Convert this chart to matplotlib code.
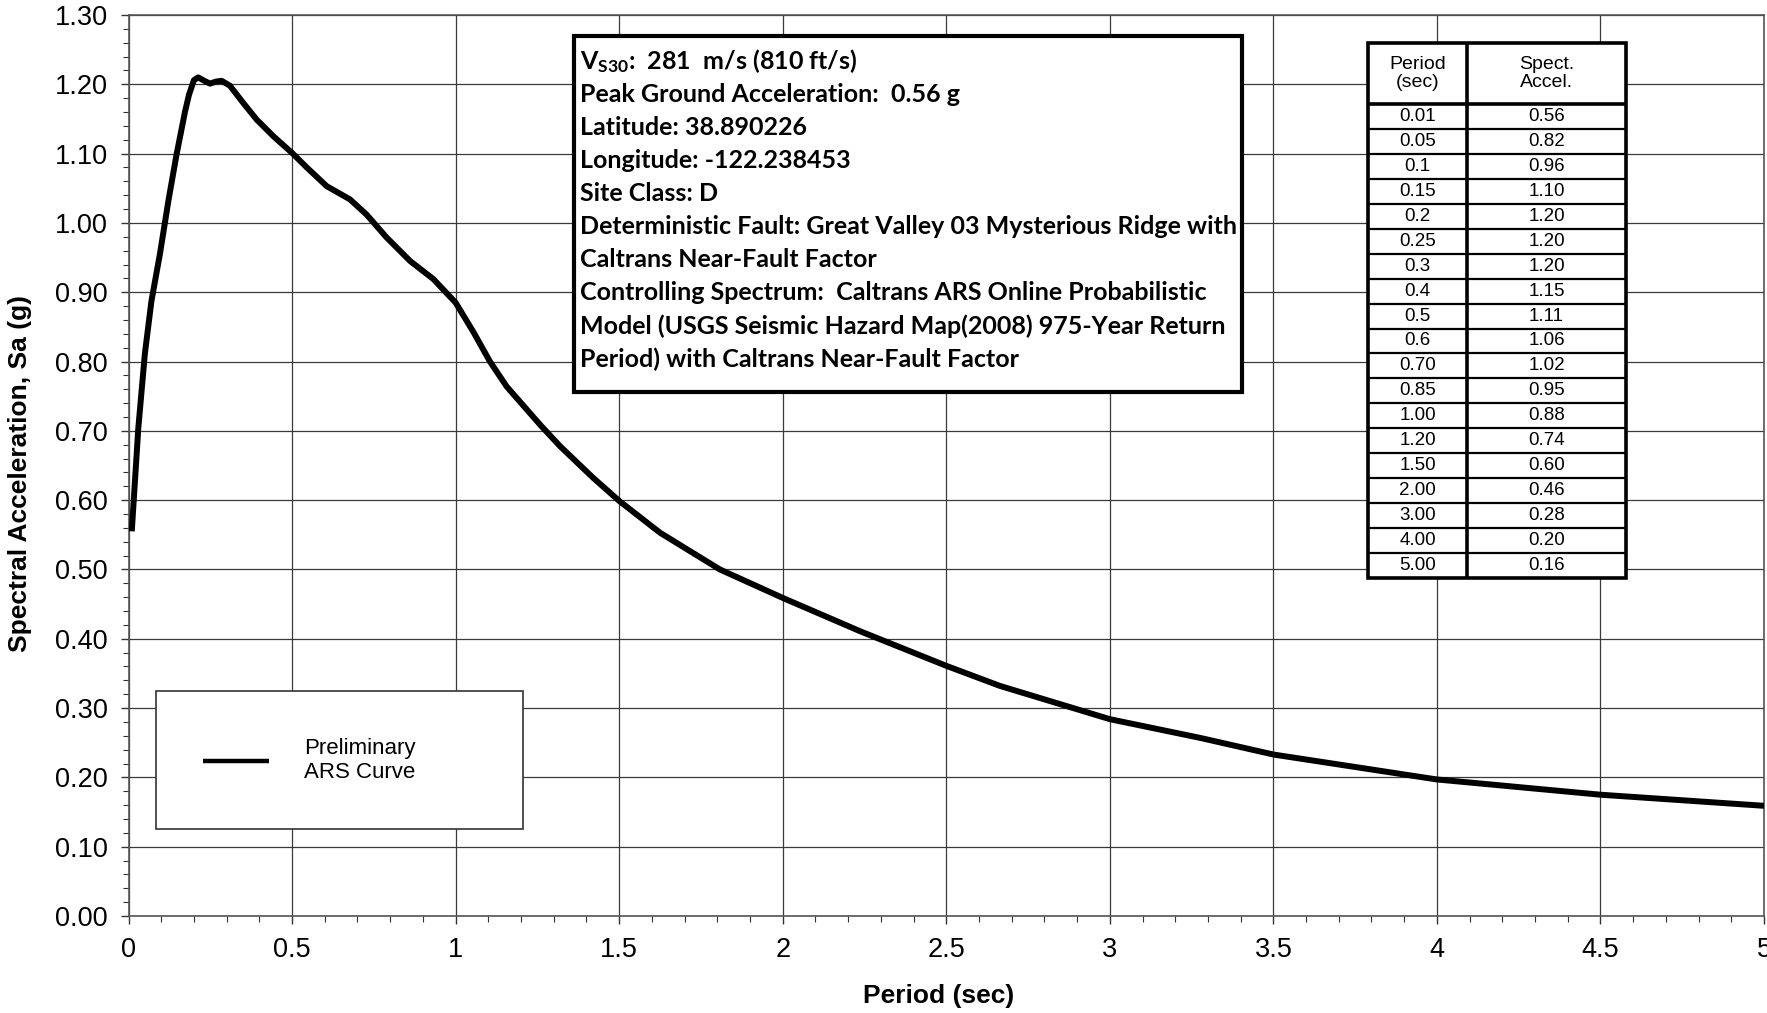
import matplotlib
matplotlib.use('Agg')
import matplotlib.pyplot as plt
from matplotlib.patches import Rectangle
from matplotlib.ticker import MultipleLocator, FuncFormatter

plt.rcParams['font.family'] = ['Liberation Sans', 'DejaVu Sans']
plt.rcParams['mathtext.fontset'] = 'custom'
plt.rcParams['mathtext.rm'] = 'Lato:bold'
plt.rcParams['mathtext.it'] = 'Lato:bold'
plt.rcParams['mathtext.bf'] = 'Lato:bold'

# ARS curve
period = [0.01, 0.03, 0.05, 0.07, 0.096, 0.122, 0.147, 0.173, 0.185, 0.2,
          0.213, 0.232, 0.249, 0.268, 0.285, 0.31, 0.351, 0.392, 0.443, 0.5,
          0.545, 0.606, 0.677, 0.728, 0.789, 0.861, 0.932, 1.0, 1.054, 1.105,
          1.156, 1.258, 1.319, 1.421, 1.5, 1.625, 1.808, 2.0, 2.236, 2.5,
          2.664, 3.0, 3.276, 3.5, 4.0, 4.5, 5.0]
spectral_accel = [0.555, 0.704, 0.811, 0.887, 0.955, 1.032, 1.099, 1.161, 1.185, 1.206,
                  1.210, 1.205, 1.201, 1.204, 1.205, 1.198, 1.173, 1.149, 1.125, 1.101,
                  1.080, 1.053, 1.034, 1.012, 0.979, 0.945, 0.919, 0.885, 0.843, 0.800,
                  0.764, 0.709, 0.678, 0.632, 0.599, 0.553, 0.500, 0.459, 0.411, 0.361,
                  0.332, 0.284, 0.257, 0.233, 0.197, 0.175, 0.159]

# table on the right
table_period = ['0.01', '0.05', '0.1', '0.15', '0.2', '0.25', '0.3', '0.4', '0.5', '0.6',
                '0.70', '0.85', '1.00', '1.20', '1.50', '2.00', '3.00', '4.00', '5.00']
table_accel = ['0.56', '0.82', '0.96', '1.10', '1.20', '1.20', '1.20', '1.15', '1.11', '1.06',
               '1.02', '0.95', '0.88', '0.74', '0.60', '0.46', '0.28', '0.20', '0.16']
table_header = ['Period\n(sec)', 'Spect.\nAccel.']

info_lines = [
    r'$\mathrm{V}_{\mathrm{S30}}$:  281  m/s (810 ft/s)',
    'Peak Ground Acceleration:  0.56 g',
    'Latitude: 38.890226',
    'Longitude: -122.238453',
    'Site Class: D',
    'Deterministic Fault: Great Valley 03 Mysterious Ridge with',
    'Caltrans Near-Fault Factor',
    'Controlling Spectrum:  Caltrans ARS Online Probabilistic',
    'Model (USGS Seismic Hazard Map(2008) 975-Year Return',
    'Period) with Caltrans Near-Fault Factor',
]

W, H = 1767, 1013


def fx(x):
    return x / W


def fy(y):
    return 1 - y / H


fig = plt.figure(figsize=(W / 100, H / 100), dpi=100)
ax = fig.add_axes([fx(128.5), fy(916), (1764 - 128.5) / W, (916 - 15) / H])

ax.plot(period, spectral_accel, color='black', lw=4.3, solid_joinstyle='round',
        solid_capstyle='butt', zorder=4, label='Preliminary\nARS Curve')

ax.set_xlim(0, 5)
ax.set_ylim(0, 1.3)
ax.xaxis.set_major_locator(MultipleLocator(0.5))
ax.xaxis.set_minor_locator(MultipleLocator(0.1))
ax.yaxis.set_major_locator(MultipleLocator(0.1))
ax.yaxis.set_minor_locator(MultipleLocator(0.02))
ax.xaxis.set_major_formatter(FuncFormatter(lambda v, p: '{:g}'.format(v)))
ax.yaxis.set_major_formatter(FuncFormatter(lambda v, p: '{:.2f}'.format(v)))
ax.grid(which='major', color='#3a3a3a', lw=0.9)
ax.set_axisbelow(True)
ax.tick_params(which='major', direction='out', length=6, width=1, color='#333333',
               labelsize=19.5, pad=9)
ax.tick_params(which='minor', direction='out', length=4, width=0.8, color='#333333')
for s in ax.spines.values():
    s.set_color('#555555')
    s.set_linewidth(1.2)

fig.text(fx(939), fy(996), 'Period (sec)', ha='center', va='center',
         fontsize=19, fontweight='bold')
fig.text(fx(20), fy(473), 'Spectral Acceleration, Sa (g)', ha='center', va='center',
         rotation=90, fontsize=19, fontweight='bold')

# legend box
ax.add_patch(Rectangle((0.084, 0.1254), 1.122, 0.199, facecolor='white',
                       edgecolor='#333333', lw=1.2, zorder=3))
leg = ax.legend(loc='center left', bbox_to_anchor=((203 - 128.5) / 1635.5, (915 - 759.5) / 901),
                frameon=False, handlelength=2.95, handletextpad=1.6, borderpad=0,
                borderaxespad=0, fontsize=16)
leg.get_lines()[0].set_linewidth(3.2)

# info box
fig.add_artist(Rectangle((fx(574), fy(392)), (1242 - 574) / W, (392 - 36) / H,
                         transform=fig.transFigure, facecolor='white',
                         edgecolor='black', lw=3, zorder=5))
for i, line in enumerate(info_lines):
    fig.text(fx(580), fy(61 + i * 33.1), line, ha='left', va='center',
             fontsize=18, fontweight='bold', family='Lato', zorder=6)

# table
tab = fig.add_axes([fx(1368), fy(578), (1626 - 1368) / W, (578 - 43) / H])
tab.set_zorder(6)
header_h = 61 / 24.95
n = len(table_period)
tab.set_xlim(0, 1)
tab.set_ylim(n + header_h, 0)
tab.axis('off')
split = (1467 - 1368) / 258
tab.add_patch(Rectangle((0, 0), 1, n + header_h, facecolor='white', edgecolor='none'))
for i in range(1, n):
    tab.plot([0, 1], [header_h + i] * 2, color='black', lw=1.6)
tab.plot([0, 1], [header_h] * 2, color='black', lw=2.6)
tab.plot([split, split], [0, n + header_h], color='black', lw=2.6)
tab.add_patch(Rectangle((0, 0), 1, n + header_h, facecolor='none', edgecolor='black',
                        lw=2.6, clip_on=False, zorder=5))
c1 = split / 2
c2 = (1 + split) / 2
tab.text(c1, header_h / 2, table_header[0], ha='center', va='center', fontsize=14,
         linespacing=1.15)
tab.text(c2, header_h / 2, table_header[1], ha='center', va='center', fontsize=14,
         linespacing=1.15)
for i, (p, a) in enumerate(zip(table_period, table_accel)):
    tab.text(c1, header_h + i + 0.5, p, ha='center', va='center', fontsize=13.5)
    tab.text(c2, header_h + i + 0.5, a, ha='center', va='center', fontsize=13.5)

fig.savefig('out.png', dpi=100)
